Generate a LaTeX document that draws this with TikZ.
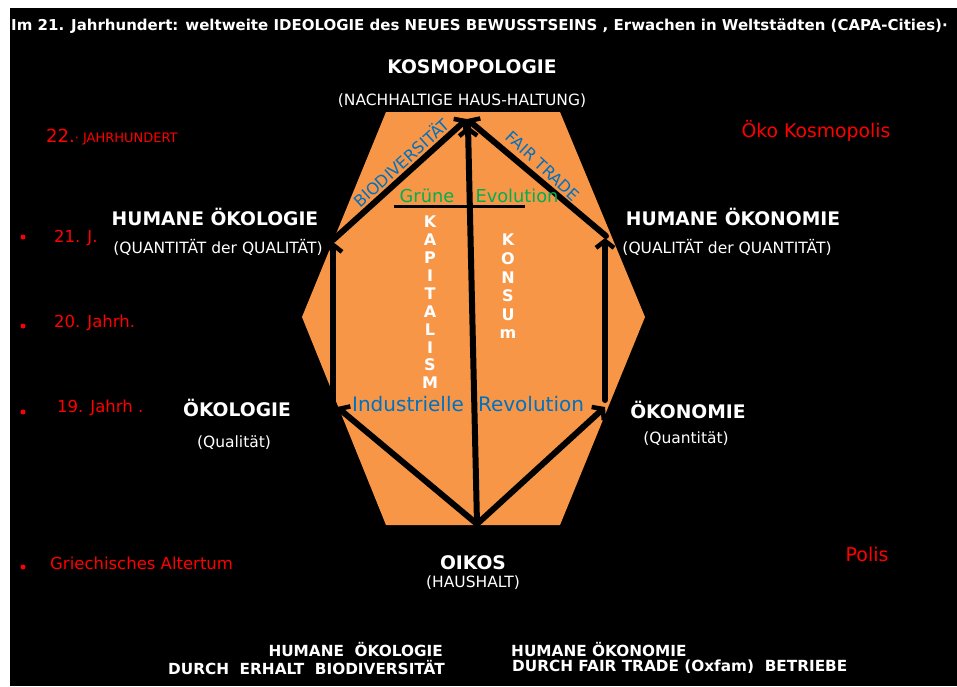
\documentclass[tikz,border=0pt]{standalone}
\usepackage{fontspec}
\setmainfont{DejaVu Sans}
\usetikzlibrary{arrows.meta}
\definecolor{hexorange}{HTML}{F79646}
\definecolor{txtblue}{HTML}{0070C0}
\definecolor{txtgreen}{HTML}{00B050}
\definecolor{txtred}{HTML}{FF0000}
\newcommand{\fs}[1]{\fontsize{#1}{#1}\selectfont}
\tikzset{
  arr/.style={line width=6pt, line cap=round, line join=round,
    -{Straight Barb[length=7pt,width=18pt,line width=4.5pt]}},
  bigw/.style={text=white, font=\bfseries\fs{18.7}, inner sep=0pt},
  subw/.style={text=white, font=\fs{15.5}, inner sep=0pt},
  redt/.style={text=txtred, font=\fs{16.5}, inner sep=0pt},
  bott/.style={text=white, font=\bfseries\fs{15.3}, inner sep=0pt},
  bluet/.style={text=txtblue, font=\fs{20}, inner sep=0pt},
  greent/.style={text=txtgreen, font=\fs{17.8}, inner sep=0pt},
  stackw/.style={text=white, align=center, inner sep=0pt},
  dotr/.style={circle, fill=txtred, inner sep=0pt, minimum size=5pt}
}
\begin{document}
\begin{tikzpicture}[x=1pt,y=-1pt]
\useasboundingbox (0,0) rectangle (957,686);
\fill[white] (0,0) rectangle (957,686);
\fill[black] (10,8) rectangle (957,686);
% hexagon
\fill[hexorange] (386,112) -- (560,112) -- (645,317) -- (560,525) -- (386,525) -- (302,317) -- cycle;
% arrow end points
\coordinate (O) at (477,524);
\coordinate (Lb) at (337,407);
\coordinate (Rb) at (605,407);
\coordinate (Lt) at (333,242);
\coordinate (Rt) at (605,238);
\coordinate (Tp) at (467,119);
\coordinate (Tc) at (468,126);
\coordinate (Lbs) at (333,400);
\coordinate (Rbs) at (605,400);
\coordinate (Lts) at (333,240);
\coordinate (Rts) at (606,236);
% T bar
\coordinate (Ta) at (394,206);
\coordinate (Tb) at (525,206);
\draw[line width=3pt] (Ta) -- (Tb);
% arrows
\draw[arr] (O) -- (Lb);
\draw[arr] (O) -- (Rb);
\draw[arr] (O) -- (Tc);
\draw[arr] (Lbs) -- (Lt);
\draw[arr] (Rbs) -- (Rt);
\draw[arr] (Lts) -- (Tp);
\draw[arr] (Rts) -- (Tp);
% title
\node[anchor=west, text=white, font=\bfseries\fs{15}, inner sep=0pt] (title) at (11,26)
  {Im 21. Jahrhundert: weltweite IDEOLOGIE des NEUES BEWUSSTSEINS , Erwachen in Weltstädten (CAPA-Cities)·};
% main labels
\node[bigw] (kos) at (472,67) {KOSMOPOLOGIE};
\node[subw] (kossub) at (462,101) {(NACHHALTIGE HAUS-HALTUNG)};
\node[bigw] (hoek) at (215,217) {HUMANE ÖKOLOGIE};
\node[subw] (hoeksub) at (218,247) {(QUANTITÄT der QUALITÄT)};
\node[bigw] (hon) at (733,217) {HUMANE ÖKONOMIE};
\node[subw] (honsub) at (727,247) {(QUALITÄT der QUANTITÄT)};
\node[bigw] (oek) at (237,408) {ÖKOLOGIE};
\node[subw] (oeksub) at (234,443) {(Qualität)};
\node[bigw] (oen) at (688,410) {ÖKONOMIE};
\node[subw] (oensub) at (686,439) {(Quantität)};
\node[bigw] (oik) at (473,563) {OIKOS};
\node[subw] (oiksub) at (473,583) {(HAUSHALT)};
% red labels
\node[redt, anchor=west] (j22) at (46,137) {\fs{18}22.\fs{13}· JAHRHUNDERT};
\node[redt, font=\fs{18.8}] (oeko) at (816,131) {Öko Kosmopolis};
\node[dotr] (d1) at (23,237) {};
\node[dotr] (d2) at (23,326) {};
\node[dotr] (d3) at (23,412) {};
\node[dotr] (d4) at (23,567) {};
\node[redt, anchor=west] (j21) at (54,238) {21. J.};
\node[redt, anchor=west] (j20) at (54,323) {20. Jahrh.};
\node[redt, anchor=west] (j19) at (57,408) {19. Jahrh .};
\node[redt, anchor=west] (alt) at (50,563) {Griechisches Altertum};
\node[redt, font=\fs{19}] (pol) at (867,554) {Polis};
% bottom texts
\node[bott, anchor=east] (b1) at (443,650) {HUMANE\ \ ÖKOLOGIE};
\node[bott, anchor=east] (b2) at (445,667) {DURCH\ \ ERHALT\ \ BIODIVERSITÄT};
\node[bott, anchor=west] (b3) at (511,650) {HUMANE ÖKONOMIE};
\node[bott, anchor=west] (b4) at (512,667) {DURCH FAIR TRADE (Oxfam)\ \ BETRIEBE};
% inside texts
\node[bluet, font=\fs{16.2}, rotate=42] (bio) at (401,162) {BIODIVERSITÄT};
\node[bluet, font=\fs{16}, rotate=-43] (fair) at (543,166) {FAIR TRADE};
\node[greent] (gr) at (427,196) {Grüne};
\node[greent] (ev) at (517,196) {Evolution};
\node[bluet] (ind) at (408,404) {Industrielle};
\node[bluet] (rev) at (531,404) {Revolution};
\node[stackw, font=\bfseries\fontsize{16}{17.9}\selectfont] (kap) at (430,302.5) {K\\A\\P\\I\\T\\A\\L\\I\\S\\M};
\node[stackw, font=\bfseries\fontsize{16}{18.6}\selectfont] (kon) at (508,286.5) {K\\O\\N\\S\\U\\m};
\end{tikzpicture}
\end{document}
